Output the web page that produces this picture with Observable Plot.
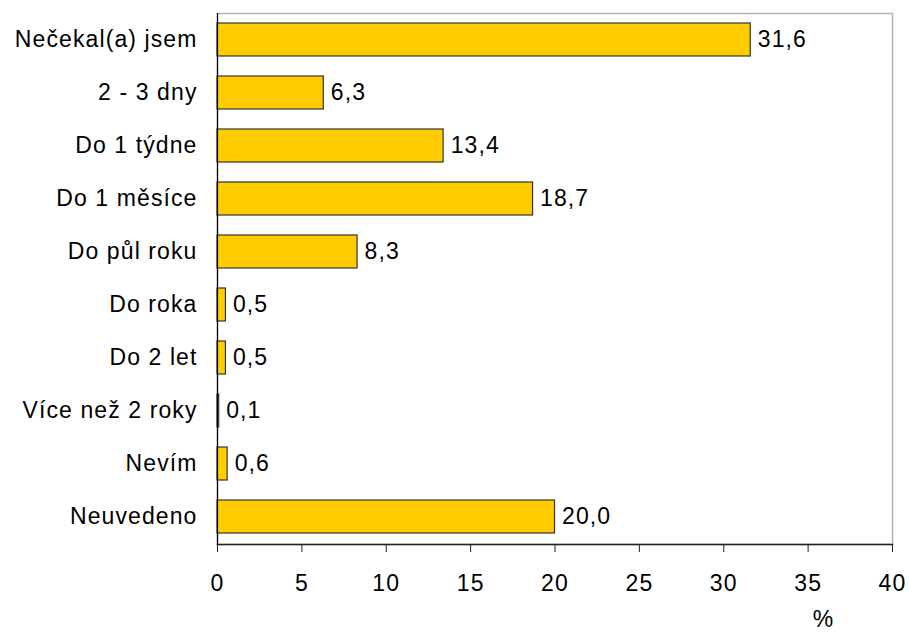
<!DOCTYPE html>
<html>
<head>
<meta charset="utf-8">
<script src="https://cdn.jsdelivr.net/npm/d3@7"></script>
<script src="https://cdn.jsdelivr.net/npm/@observablehq/plot@0.6"></script>
<style>
  html, body { margin: 0; padding: 0; background: #fff; }
  #chart svg text { letter-spacing: 1.1px; }
</style>
</head>
<body>
<div id="chart"></div>
<script>
const categories = ["Nečekal(a) jsem", "2 - 3 dny", "Do 1 týdne", "Do 1 měsíce", "Do půl roku", "Do roka", "Do 2 let", "Více než 2 roky", "Nevím", "Neuvedeno"];
const values = [31.6, 6.3, 13.4, 18.7, 8.3, 0.5, 0.5, 0.1, 0.6, 20.0];
const xTicks = [0, 5, 10, 15, 20, 25, 30, 35, 40];
const xLabel = "%";

const data = categories.map((c, i) => ({category: c, value: values[i]}));
const fmt = v => d3.format(".1f")(v).replace(".", ",");

const chart = Plot.plot({
  width: 909,
  height: 633,
  marginLeft: 217,
  marginRight: 17,
  marginTop: 13,
  marginBottom: 89,
  style: {fontFamily: "'Liberation Sans', Arial, sans-serif", fontSize: "23px", color: "#000", background: "#fff"},
  x: {domain: [0, 40], ticks: xTicks, label: null},
  y: {domain: categories, paddingInner: 0.37, paddingOuter: 0.185, label: null},
  marks: [
    Plot.frame({stroke: "#b3b3b3", strokeWidth: 1.5}),
    Plot.barX(data, {x: "value", y: "category", fill: "#FFCC00", stroke: "#333", strokeWidth: 1.2}),
    Plot.frame({anchor: "left", stroke: "#000", strokeWidth: 1.2}),
    Plot.frame({anchor: "bottom", stroke: "#222", strokeWidth: 1.5}),
    Plot.text(data, {x: "value", y: "category", text: d => fmt(d.value), textAnchor: "start", dx: 7, fill: "#000", fontSize: 23}),
    Plot.axisX({ticks: xTicks, tickSize: 8, tickPadding: 22, tickFormat: d => String(d), label: null, stroke: "#222", fontSize: 23}),
    Plot.axisY({tickSize: 0, tickPadding: 20, label: null, fontSize: 23}),
    Plot.text([xLabel], {frameAnchor: "bottom-right", textAnchor: "middle", lineAnchor: "bottom", dx: -69, dy: 82, fill: "#000", fontSize: 23})
  ]
});
document.getElementById("chart").append(chart);
</script>
</body>
</html>
